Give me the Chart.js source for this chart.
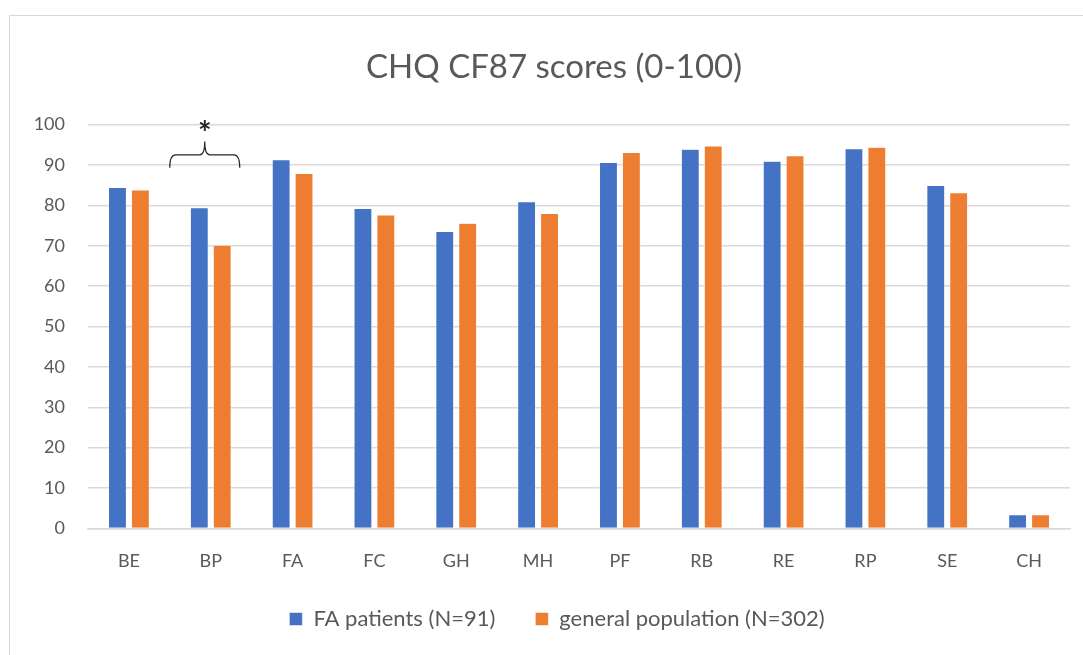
<!DOCTYPE html>
<html>
<head>
<meta charset="utf-8">
<script src="https://cdn.jsdelivr.net/npm/chart.js@4.4.1/dist/chart.umd.min.js"></script>
<style>
  html, body { margin: 0; padding: 0; background: #fff; overflow: hidden; }
  #frame { position: absolute; left: 9px; top: 15px; width: 1200px; height: 800px; border: 1px solid #d9d9d9; }
  #wrap { position: absolute; left: 0; top: 0; width: 1083px; height: 655px; }
</style>
</head>
<body>
<div id="frame"></div>
<div id="wrap"><canvas id="chart"></canvas></div>
<script>
// CHQ CF87 domains
const categories = ['BE', 'BP', 'FA', 'FC', 'GH', 'MH', 'PF', 'RB', 'RE', 'RP', 'SE', 'CH'];
const faPatients = [84.4, 79.4, 91.3, 79.2, 73.5, 80.9, 90.6, 93.9, 90.9, 94.0, 84.9, 3.4];
const generalPop = [83.8, 70.1, 87.9, 77.6, 75.6, 78.0, 93.1, 94.7, 92.3, 94.4, 83.1, 3.4];
const seriesNames = ['FA patients (N=91)', 'general population (N=302)'];
const yTicks = [0, 10, 20, 30, 40, 50, 60, 70, 80, 90, 100];

const grey = '#595959';
const font = "Lato, 'Open Sans', sans-serif";

// nudge title / legend so they sit centred like the original
const shiftPlugin = {
  id: 'shift',
  afterLayout(chart) {
    if (chart.legend) { chart.legend.left += 12; chart.legend.right += 12; }
    if (chart.titleBlock) { chart.titleBlock.left += 9; chart.titleBlock.right += 9; }
  }
};

// brace + asterisk over BP
const bracePlugin = {
  id: 'brace',
  afterDatasetsDraw(chart) {
    const ctx = chart.ctx;
    const x = chart.scales.x, y = chart.scales.y;
    const cx = x.getPixelForValue(1) - 6;
    const half = 35;
    const yEnd = y.getPixelForValue(89.3);
    const yMid = y.getPixelForValue(92.5);
    const yTip = y.getPixelForValue(95.8);
    ctx.save();
    ctx.strokeStyle = '#262626';
    ctx.lineWidth = 1.2;
    ctx.beginPath();
    ctx.moveTo(cx - half, yEnd);
    ctx.quadraticCurveTo(cx - half, yMid, cx - half + 6, yMid);
    ctx.lineTo(cx - 5, yMid);
    ctx.quadraticCurveTo(cx, yMid, cx, yTip);
    ctx.moveTo(cx + half, yEnd);
    ctx.quadraticCurveTo(cx + half, yMid, cx + half - 6, yMid);
    ctx.lineTo(cx + 5, yMid);
    ctx.quadraticCurveTo(cx, yMid, cx, yTip);
    ctx.stroke();
    ctx.fillStyle = '#262626';
    ctx.font = "bold 32px " + font;
    ctx.textAlign = 'center';
    ctx.textBaseline = 'middle';
    ctx.fillText('*', cx, y.getPixelForValue(97.4));
    ctx.restore();
  }
};

const ctx = document.getElementById('chart').getContext('2d');
new Chart(ctx, {
  type: 'bar',
  data: {
    labels: categories,
    datasets: [{
      label: seriesNames[0],
      data: faPatients,
      backgroundColor: '#4472C4',
      borderColor: '#ffffff',
      borderWidth: 0.5,
      categoryPercentage: 0.56,
      barPercentage: 0.78
    }, {
      label: seriesNames[1],
      data: generalPop,
      backgroundColor: '#ED7D31',
      borderColor: '#ffffff',
      borderWidth: 0.5,
      categoryPercentage: 0.56,
      barPercentage: 0.78
    }]
  },
  options: {
    responsive: true,
    maintainAspectRatio: false,
    animation: false,
    layout: { padding: { left: 20, right: 13, top: 0, bottom: 15 } },
    plugins: {
      title: {
        display: true,
        text: 'CHQ CF87 scores (0-100)',
        color: grey,
        font: { family: font, size: 33, weight: 'normal' },
        padding: { top: 48, bottom: 37 }
      },
      legend: {
        position: 'bottom',
        labels: {
          color: grey,
          font: { family: font, size: 22 },
          boxWidth: 13,
          boxHeight: 13,
          padding: 40
        }
      },
      tooltip: { enabled: false }
    },
    scales: {
      x: {
        afterFit(axis) { axis.height -= 26; },
        grid: { display: false, drawTicks: false },
        border: { display: true, color: '#d9d9d9', width: 1.5 },
        ticks: { color: grey, font: { family: font, size: 18 }, padding: 22 }
      },
      y: {
        min: 0,
        max: 100,
        afterBuildTicks(axis) { axis.ticks = yTicks.map(v => ({ value: v })); },
        afterFit(axis) { axis.width = 68; },
        grid: { color: '#d9d9d9', lineWidth: 1.5, drawTicks: false },
        border: { display: false },
        ticks: { color: grey, font: { family: font, size: 18 }, padding: 23 }
      }
    }
  },
  plugins: [shiftPlugin, bracePlugin]
});
</script>
</body>
</html>
